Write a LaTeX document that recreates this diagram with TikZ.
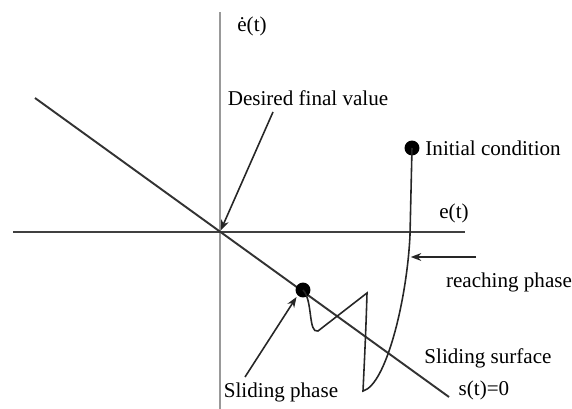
\documentclass[tikz,border=0pt]{standalone}
\usepackage{fontspec}
\setmainfont{Liberation Serif}
\usetikzlibrary{positioning, arrows.meta}

\begin{document}
\begin{tikzpicture}[x=0.02cm,y=-0.02cm,>={Stealth[length=6pt,width=4.5pt]},
    dot/.style={circle,fill=black,inner sep=0pt,minimum size=8.5pt},
    lbl/.style={font=\fontsize{12}{14}\selectfont,inner sep=1pt},
    ptr/.style={->,line width=0.9pt,black!85,shorten >=1pt}]
  \useasboundingbox (0,0) rectangle (572,409);
  % axes
  \coordinate (O) at (220,232);
  \coordinate (ytop) at (220,12);
  \coordinate (ybot) at (220,409);
  \coordinate (xl) at (13,232);
  \coordinate (xr) at (465,232);
  \draw[black!40,line width=1.7pt](ybot) -- (ytop);
  \draw[black!75,line width=1.4pt](xl) -- (xr);
  \node[lbl](edot) at (252,26){\.{e}(t)};
  \node[lbl](e) at (454,213){e(t)};
  % sliding surface
  \coordinate (sl) at (35,98);
  \coordinate (sr) at (449,397);
  \draw[black!80,line width=1.1pt](sl) -- (sr);
  \node[lbl](ss) at (488,358){Sliding surface};
  \node[lbl](s0) at (484,390){s(t)=0};
  % points
  \node[dot](ic) at (412,148){};
  \node[lbl,right=2pt of ic](ictxt){Initial condition};
  \node[dot](sp) at (303,290){};
  % trajectory
  \draw[black!85,line width=0.9pt](sp.center)
       .. controls (313,300) and (308,334) .. (318,331)
       -- (367,293)
       .. controls (366,330) and (364,370) .. (363,391)
       .. controls (386,385) and (407,300) .. (410,235)
       -- (ic.center);
  % labels with arrows
  \node[lbl](dfv) at (308,98){Desired final value};
  \coordinate (dfvtail) at (273,112);
  \draw[ptr](dfvtail) -- (O);
  \coordinate (rp) at (409,257);
  \coordinate (rptail) at (476,257);
  \draw[ptr](rptail) -- (rp);
  \node[lbl](rptxt) at (509,282){reaching phase};
  \node[lbl](sph) at (281,392){Sliding phase};
  \coordinate (sphtail) at (245,377);
  \draw[ptr](sphtail) -- (sp.south west);
\end{tikzpicture}
\end{document}
